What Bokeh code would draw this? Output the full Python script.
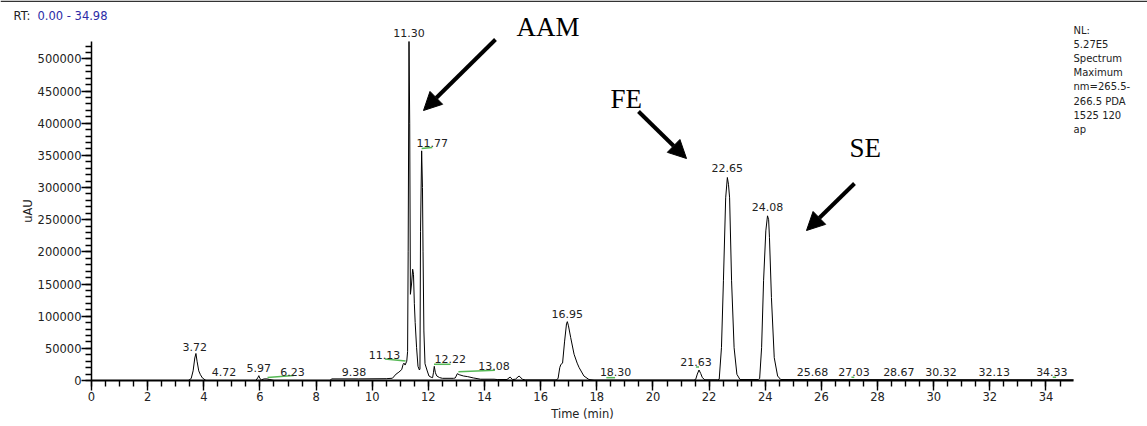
from bokeh.plotting import figure
from bokeh.models import (Range1d, FixedTicker, LabelSet, Label, Arrow, NormalHead,
                          ColumnDataSource, BasicTickFormatter, LinearAxis, Span)
from bokeh.core.properties import value
from bokeh.embed import file_html
from bokeh.resources import INLINE

# ---------------- data ----------------
rt_min = [0.00, 3.45, 3.55, 3.62, 3.68, 3.72, 3.76, 3.82, 3.88, 3.95, 4.06, 4.10,
          5.85, 5.92, 5.96, 6.00, 6.05, 6.15, 6.25, 6.35, 6.50,
          8.50, 8.55, 9.50, 10.50, 10.72, 10.85, 10.95, 11.05, 11.10, 11.13, 11.17,
          11.23, 11.26, 11.28, 11.31, 11.335, 11.36, 11.40, 11.44, 11.47, 11.50,
          11.53, 11.58, 11.63, 11.68, 11.70, 11.72, 11.76, 11.79, 11.81, 11.84,
          11.88, 11.96, 12.02, 12.10, 12.15, 12.18, 12.21, 12.25, 12.30, 12.40,
          12.50, 12.90, 12.96, 13.03, 13.10, 13.25, 13.40, 13.60, 13.86, 14.34,
          14.45, 14.80, 14.91, 15.00, 15.10, 15.23, 15.35, 15.45,
          16.55, 16.62, 16.68, 16.72, 16.78, 16.85, 16.92, 16.95, 16.99, 17.07,
          17.19, 17.30, 17.37, 17.54, 17.72, 17.90,
          21.45, 21.52, 21.58, 21.64, 21.70, 21.76, 21.85,
          22.30, 22.36, 22.44, 22.51, 22.59, 22.65, 22.69, 22.73, 22.80, 22.89,
          22.99, 23.10, 23.75, 23.80, 23.87, 23.94, 24.02, 24.08, 24.12, 24.15,
          24.22, 24.32, 24.44, 24.55, 34.98]
intensity_uau = [0, 0, 3000, 15000, 35000, 42000, 30000, 15000, 9000, 4000, 500, 0,
                 0, 4000, 7500, 3000, 1000, 2500, 2500, 1500, 0,
                 0, 2500, 2500, 2800, 3500, 10000, 13000, 17000, 25000, 27000, 24000,
                 30000, 45000, 200000, 527000, 400000, 134000, 150000, 173000, 165000, 120000,
                 90000, 51000, 22000, 16300, 18000, 232000, 357000, 300000, 200000, 77000,
                 26000, 14800, 7000, 5000, 4400, 12000, 22000, 12000, 7000, 4500,
                 3400, 3400, 4000, 10600, 9000, 7000, 6000, 4000, 2000, 2000,
                 1500, 1500, 5400, 1500, 2000, 7000, 2000, 800,
                 800, 3000, 20000, 25000, 27000, 60000, 88000, 91500, 85000, 66600,
                 40800, 27000, 20000, 7000, 1500, 500,
                 500, 1500, 10000, 16300, 11000, 4400, 1000,
                 1000, 2000, 51000, 155000, 284000, 315600, 305000, 284000, 155000, 51000,
                 9600, 1500, 1500, 3000, 51000, 155000, 232600, 256000, 250000, 222000,
                 129000, 35500, 7000, 1500, 1000]

peak_labels = ["3.72", "4.72", "5.97", "6.23", "9.38", "11.13", "11.30", "11.77",
               "12.22", "13.08", "16.95", "18.30", "21.63", "22.65", "24.08",
               "25.68", "27.03", "28.67", "30.32", "32.13", "34.33"]
label_rt = [3.68, 4.72, 5.96, 7.16, 9.35, 10.44, 11.31, 12.14,
            12.78, 14.34, 16.95, 18.67, 21.53, 22.65, 24.08,
            25.68, 27.16, 28.76, 30.26, 32.16, 34.21]
label_int = [52600, 13200, 19900, 13200, 13200, 40000, 540000, 368500,
             33000, 22600, 104000, 13700, 29300, 329600, 269000,
             12500, 12500, 12500, 12500, 12500, 12500]

# baseline marks (green)
base_x0 = [6.27, 10.45, 11.76, 12.20, 13.07, 18.34, 21.53, 27.07, 34.24]
base_y0 = [4700, 33500, 360700, 25200, 13700, 4400, 21000, 5000, 5000]
base_x1 = [7.20, 11.19, 12.14, 12.79, 14.37, 18.65, 21.64, 27.17, 34.36]
base_y1 = [7800, 30300, 362300, 25200, 15900, 4400, 21000, 5000, 5000]

x_major = list(range(0, 35, 2))
x_minor = [i * 0.5 for i in range(70)]
y_major = list(range(0, 500001, 50000))
y_minor = list(range(0, 527001, 10000))

info_lines = ["NL:", "5.27E5", "Spectrum", "Maximum", "nm=265.5-", "266.5  PDA",
              "1525 120", "ap"]

# ---------------- layout (page pixels) ----------------
W, H = 1147, 426
X_END, Y_END = 34.98, 527000
FRAME_L, FRAME_R, FRAME_T, FRAME_B = 91, 1073, 41, 380
XPX = (FRAME_R - FRAME_L) / X_END
YPX = (FRAME_B - FRAME_T) / Y_END


def tx(px):
    return (px - FRAME_L) / XPX


def iy(py):
    return (FRAME_B - py) / YPX


p = figure(width=W, height=H, x_range=Range1d(tx(0), tx(W)), y_range=Range1d(iy(H), iy(0)),
           output_backend="svg", toolbar_location=None,
           x_axis_location=None, y_axis_location=None,
           min_border=0, min_border_left=0, min_border_right=0,
           min_border_top=0, min_border_bottom=0)
p.outline_line_color = None
p.grid.visible = False
p.background_fill_color = "white"
p.border_fill_color = "white"

AX_FONT = "DejaVu Sans"
xaxis = LinearAxis(ticker=FixedTicker(ticks=x_major, minor_ticks=x_minor),
                   fixed_location=0, bounds=(0, X_END), axis_label="Time (min)")
yaxis = LinearAxis(ticker=FixedTicker(ticks=y_major, minor_ticks=y_minor),
                   formatter=BasicTickFormatter(use_scientific=False),
                   fixed_location=0, bounds=(0, Y_END), axis_label="uAU")
for ax in (xaxis, yaxis):
    ax.major_tick_out = 10
    ax.major_tick_in = 0
    ax.minor_tick_out = 6
    ax.minor_tick_in = 0
    ax.major_tick_line_width = 1.4
    ax.minor_tick_line_width = 1.4
    ax.major_tick_line_color = "black"
    ax.minor_tick_line_color = "black"
    ax.axis_line_color = "black"
    ax.major_label_text_font = AX_FONT
    ax.major_label_text_font_size = "11.5px"
    ax.major_label_text_color = "#222222"
    ax.axis_label_text_font = AX_FONT
    ax.axis_label_text_font_size = "11.5px"
    ax.axis_label_text_font_style = "normal"
    ax.axis_label_text_color = "#222222"
xaxis.axis_line_width = 2
yaxis.axis_line_width = 1.5
xaxis.major_label_standoff = 1
xaxis.axis_label_standoff = 3
yaxis.major_label_standoff = 0
yaxis.axis_label_standoff = 0
p.add_layout(xaxis, "below")
p.add_layout(yaxis, "left")

# top rule of the page
p.add_layout(Span(location=iy(0.8), dimension="width", line_color="#333333", line_width=1.6))

# chromatogram trace
p.line(rt_min, intensity_uau, line_color="black", line_width=1)

# green baseline marks
p.segment(x0=base_x0, y0=base_y0, x1=base_x1, y1=base_y1,
          line_color="#55b855", line_width=1.5)

# peak retention-time labels
lab_src = ColumnDataSource(dict(x=label_rt, y=label_int, text=peak_labels))
p.add_layout(LabelSet(x="x", y="y", text="text", source=lab_src,
                      text_align="center", text_baseline="middle",
                      text_font=value("DejaVu Sans"), text_font_size="11px",
                      text_color="#222222"))

# RT range header
p.add_layout(Label(x=tx(13), y=iy(15), text="RT:", text_font="DejaVu Sans",
                   text_font_size="11.5px", text_color="#222222",
                   text_align="left", text_baseline="middle"))
p.add_layout(Label(x=tx(37), y=iy(15), text="0.00 - 34.98", text_font="DejaVu Sans",
                   text_font_size="11.5px", text_color="#2b2ba6",
                   text_align="left", text_baseline="middle"))

# info block on the right
for i, line in enumerate(info_lines):
    p.add_layout(Label(x=tx(1073), y=iy(30 + 14.1 * i), text=line,
                       text_font="DejaVu Sans", text_font_size="10px",
                       text_color="#222222", text_align="left",
                       text_baseline="middle"))

# compound annotations
for txt, px, py in (("AAM", 516, 26), ("FE", 610, 98.3), ("SE", 849, 147.3)):
    p.add_layout(Label(x=tx(px), y=iy(py), text=txt, text_font="Liberation Serif",
                       text_font_size="27px", text_color="black",
                       text_align="left", text_baseline="alphabetic"))

for (x0, y0, x1, y1) in ((495, 39, 423, 110), (638, 111, 686, 158), (854, 183, 806, 230)):
    p.add_layout(Arrow(end=NormalHead(size=18, fill_color="black", line_color="black"),
                       x_start=tx(x0), y_start=iy(y0), x_end=tx(x1), y_end=iy(y1),
                       line_width=4, line_color="black"))

open("out.html", "w").write(file_html(p, INLINE))
